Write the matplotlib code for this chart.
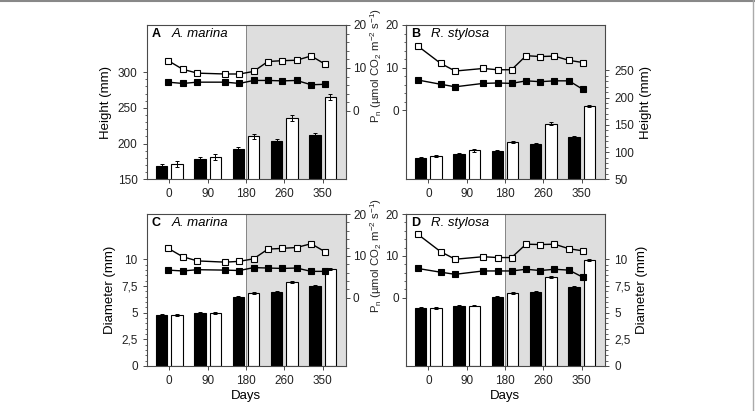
import matplotlib
matplotlib.use("Agg")
import matplotlib.pyplot as plt
from matplotlib.ticker import FixedLocator, FixedFormatter
from matplotlib.lines import Line2D
import numpy as np

plt.rcParams['font.family'] = ['Liberation Sans', 'DejaVu Sans']
plt.rcParams['mathtext.default'] = 'regular'
plt.rcParams['font.size'] = 8.5

# categories on x axis
days = ['0', '90', '180', '260', '350']
# positions (in category units) where Pn was sampled
pn_x_am = [-0.03, 0.35, 0.73, 1.46, 1.83, 2.20, 2.57, 2.95, 3.32, 3.70, 4.06]
pn_x_rs = [-0.28, 0.32, 0.70, 1.43, 1.81, 2.17, 2.55, 2.92, 3.29, 3.67, 4.03]

# A. marina height (mm): black / white bars
height_am_black = [169, 178, 192, 203, 212]
height_am_white = [171, 181, 210, 236, 265]
height_am_err_b = [3, 3, 3, 3, 3]
height_am_err_w = [4, 4, 4, 4, 4]
# R. stylosa height (mm)
height_rs_black = [89, 96, 102, 115, 128]
height_rs_white = [93, 103, 118, 152, 184]
height_rs_err_b = [1.5, 1.5, 1.5, 2, 2]
height_rs_err_w = [2, 2, 2, 3, 2]

# diameters (mm)
diam_am_black = [4.78, 4.95, 6.5, 6.97, 7.5]
diam_am_white = [4.75, 4.97, 6.82, 7.9, 9.1]
diam_rs_black = [5.47, 5.66, 6.5, 6.97, 7.44]
diam_rs_white = [5.47, 5.66, 6.81, 8.31, 9.94]
diam_err_b = [0.08, 0.08, 0.08, 0.08, 0.08]
diam_err_w = [0.08, 0.08, 0.1, 0.1, 0.1]

# Pn (umol CO2 m-2 s-1): open / filled squares
pn_A_open = [11.7, 9.7, 8.8, 8.6, 8.6, 9.2, 11.5, 11.7, 11.8, 12.8, 10.9]
pn_A_fill = [6.7, 6.4, 6.7, 6.7, 6.4, 7.1, 7.1, 7.0, 7.1, 6.1, 6.2]
pn_B_open = [15.1, 11.0, 9.2, 9.8, 9.5, 9.5, 12.8, 12.6, 12.7, 11.7, 11.2]
pn_B_fill = [7.1, 6.1, 5.5, 6.3, 6.4, 6.3, 6.9, 6.7, 6.9, 6.9, 4.9]
pn_C_open = [11.8, 9.8, 8.8, 8.5, 8.7, 9.3, 11.6, 11.8, 12.0, 12.9, 11.0]
pn_C_fill = [6.6, 6.4, 6.7, 6.6, 6.5, 7.2, 7.1, 7.0, 7.1, 6.3, 6.3]
pn_D_open = [15.2, 11.0, 9.2, 9.8, 9.6, 9.6, 12.8, 12.7, 12.8, 11.7, 11.2]
pn_D_fill = [7.0, 6.1, 5.6, 6.4, 6.4, 6.4, 6.8, 6.5, 6.8, 6.6, 4.9]

pn_label = 'P$_n$ (µmol CO$_2$ m$^{-2}$ s$^{-1}$)'
frame_c = '#4a4a4a'
shade_c = '#dedede'

fig = plt.figure(figsize=(7.55, 4.11), dpi=100)
fig.add_artist(Line2D([0, 1], [0.997, 0.997], color='#888888', lw=1.5))
fig.add_artist(Line2D([0.998, 0.998], [0, 1], color='#aaaaaa', lw=1.0))

W = 0.264
panels = [
    ([0.1943, 0.5637, W, 0.3755], 'A', 'A. marina', False,
     (height_am_black, height_am_white, height_am_err_b, height_am_err_w),
     (pn_A_open, pn_A_fill), pn_x_am, (150, 366), (-15.9, 20), 'height'),
    ([0.5374, 0.5637, W, 0.3755], 'B', 'R. stylosa', True,
     (height_rs_black, height_rs_white, height_rs_err_b, height_rs_err_w),
     (pn_B_open, pn_B_fill), pn_x_rs, (50, 333), (-16.2, 20), 'height'),
    ([0.1943, 0.1095, W, 0.3698], 'C', 'A. marina', False,
     (diam_am_black, diam_am_white, diam_err_b, diam_err_w),
     (pn_C_open, pn_C_fill), pn_x_am, (0, 14.25), (-16.3, 20), 'diam'),
    ([0.5374, 0.1095, W, 0.3698], 'D', 'R. stylosa', True,
     (diam_rs_black, diam_rs_white, diam_err_b, diam_err_w),
     (pn_D_open, pn_D_fill), pn_x_rs, (0, 14.25), (-16.3, 20), 'diam'),
]

x = np.arange(len(days))
for rect, letter, species, right, bars, pns, pnx, ylim, pnlim, kind in panels:
    ax = fig.add_axes(rect)
    ax.set_xlim(-0.59, 4.61)
    ax.set_ylim(*ylim)
    ax.axvspan(2, 4.61, color=shade_c, lw=0, zorder=0)
    ax.axvline(2, color='#777777', lw=0.6, zorder=1)
    b, w, eb, ew = bars
    ekw = dict(ecolor='black', elinewidth=0.7, capsize=1.5, capthick=0.7)
    ax.bar(x - 0.2, b, 0.3, color='black', edgecolor='black', lw=0.8, zorder=2,
           yerr=eb, error_kw=ekw)
    ax.bar(x + 0.2, w, 0.3, color='white', edgecolor='black', lw=0.8, zorder=2,
           yerr=ew, error_kw=ekw)
    ax.set_xticks(x)
    ax.set_xticklabels(days)
    for s in ax.spines.values():
        s.set_color(frame_c)
        s.set_linewidth(0.8)
    ax.tick_params(colors=frame_c, labelcolor='#222222', length=3, width=0.7, direction='out')
    ax.tick_params(which='minor', length=1.8, width=0.6, colors=frame_c)

    if kind == 'height':
        top = 300 if not right else 250
        ax.yaxis.set_major_locator(FixedLocator(np.arange(ylim[0], top + 1, 50)))
        ax.yaxis.set_minor_locator(FixedLocator(np.arange(ylim[0], top + 1, 10)))
        ax.set_ylabel('Height (mm)', fontsize=9.5)
    else:
        ax.yaxis.set_major_locator(FixedLocator([0, 2.5, 5, 7.5, 10]))
        ax.yaxis.set_major_formatter(FixedFormatter(['0', '2,5', '5', '7,5', '10']))
        ax.yaxis.set_minor_locator(FixedLocator(np.arange(0, 10.01, 0.5)))
        ax.set_ylabel('Diameter (mm)', fontsize=9.5)
        ax.set_xlabel('Days', fontsize=9.5, labelpad=2)

    ax2 = ax.twinx()
    ax2.set_ylim(*pnlim)
    po, pf = pns
    ax2.plot(pnx, po, '-', color='black', lw=1.0, marker='s', ms=4.5,
             mfc='white', mec='black', mew=0.8, zorder=3)
    ax2.plot(pnx, pf, '-', color='black', lw=1.0, marker='s', ms=4.5,
             mfc='black', mec='black', mew=0.8, zorder=3)
    ax2.yaxis.set_major_locator(FixedLocator([0, 10, 20]))
    ax2.yaxis.set_minor_locator(FixedLocator(np.arange(0, 20.1, 2)))
    ax2.tick_params(colors=frame_c, labelcolor='#222222', length=3, width=0.7, direction='out')
    ax2.tick_params(which='minor', length=1.8, width=0.6, colors=frame_c)
    for s in ax2.spines.values():
        s.set_visible(False)

    if right:
        ax.yaxis.tick_right()
        ax.yaxis.set_label_position('right')
        ax2.yaxis.tick_left()
        ax2.tick_params(axis='y', pad=2)
        sp = ax2.spines['left']
    else:
        ax2.tick_params(axis='y', pad=2)
        sp = ax2.spines['right']
    sp.set_visible(True)
    sp.set_bounds(0, 20)
    sp.set_color(frame_c)
    sp.set_linewidth(0.8)

    ax.text(0.025, 0.94, letter, transform=ax.transAxes, fontweight='bold',
            fontsize=9, va='center', ha='left')
    ax.text(0.125, 0.94, species, transform=ax.transAxes, style='italic',
            fontsize=9.5, va='center', ha='left')

# one shared Pn label per row, between left and right panels, centred on the 0-20 span
for yc in (0.8394, 0.3771):
    fig.text(0.4975, yc, pn_label, rotation=90, ha='center', va='center',
             fontsize=8.2, color='#222222')

fig.savefig('out.png', dpi=100)
